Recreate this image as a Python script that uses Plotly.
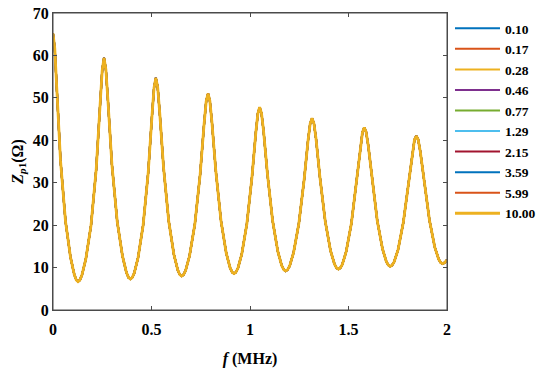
import plotly.graph_objects as go

# Frequency (MHz) and impedance (Ohm)
freq_mhz = [
    0.0, 0.0089, 0.0191, 0.0381, 0.0635, 0.0889, 0.1080, 0.1181,
    0.127, 0.1362, 0.1468, 0.1666, 0.193, 0.2194, 0.2392, 0.2498,
    0.259, 0.2684, 0.2791, 0.2992, 0.326, 0.3528, 0.3729, 0.3836,
    0.393, 0.4020, 0.4124, 0.4317, 0.4575, 0.4833, 0.5027, 0.5130,
    0.522, 0.5312, 0.5417, 0.5613, 0.5875, 0.6137, 0.6334, 0.6438,
    0.653, 0.6624, 0.6731, 0.6932, 0.72, 0.7468, 0.7669, 0.7776,
    0.787, 0.7962, 0.8068, 0.8266, 0.853, 0.8794, 0.8992, 0.9098,
    0.919, 0.9281, 0.9385, 0.958, 0.984, 1.01, 1.0295, 1.0399,
    1.049, 1.0582, 1.0688, 1.0886, 1.115, 1.1414, 1.1612, 1.1718,
    1.181, 1.1904, 1.2011, 1.2212, 1.248, 1.2748, 1.2949, 1.3056,
    1.315, 1.3244, 1.3351, 1.3552, 1.382, 1.4088, 1.4289, 1.4396,
    1.449, 1.4582, 1.4687, 1.4883, 1.5145, 1.5407, 1.5604, 1.5708,
    1.580, 1.5892, 1.5998, 1.6196, 1.646, 1.6724, 1.6922, 1.7028,
    1.712, 1.7212, 1.7318, 1.7516, 1.778, 1.8044, 1.8242, 1.8348,
    1.844, 1.8534, 1.8641, 1.8842, 1.911, 1.9378, 1.9579, 1.9686,
    1.978, 1.990, 2.0,
]
z_ohm = [
    65.2, 61.7, 52.3, 35.2, 20.9, 12.42, 8.35, 7.08,
    6.7, 7.05, 8.21, 12.0, 19.95, 33.2, 48.5, 56.5,
    59.4, 56.7, 49.2, 34.2, 20.82, 12.68, 8.82, 7.65,
    7.3, 7.62, 8.70, 12.32, 19.98, 32.4, 45.9, 52.4,
    54.7, 52.6, 46.5, 33.5, 20.92, 13.08, 9.41, 8.32,
    8.0, 8.30, 9.31, 12.78, 20.2, 31.9, 43.8, 49.2,
    51.0, 49.3, 44.2, 32.7, 20.94, 13.41, 9.91, 8.90,
    8.6, 8.88, 9.83, 13.14, 20.28, 31.3, 41.8, 46.3,
    47.8, 46.4, 42.2, 32.0, 20.97, 13.76, 10.43, 9.48,
    9.2, 9.46, 10.36, 13.53, 20.39, 30.7, 40.1, 43.96,
    45.2, 44.0, 40.4, 31.2, 20.88, 13.98, 10.81, 9.91,
    9.65, 9.89, 10.75, 13.78, 20.37, 30.1, 38.6, 41.9,
    43.0, 42.0, 38.9, 30.7, 21.05, 14.43, 11.39, 10.54,
    10.3, 10.53, 11.34, 14.23, 20.55, 29.7, 37.2, 40.1,
    41.0, 40.2, 37.45, 30.2, 21.14, 14.82, 11.93, 11.13,
    10.9, 11.2, 11.8,
]

series_names = ["0.10", "0.17", "0.28", "0.46", "0.77", "1.29", "2.15", "3.59", "5.99", "10.00"]
series_colors = ["#0072BD", "#D95319", "#EDB120", "#7E2F8E", "#77AC30",
                 "#4DBEEE", "#A2142F", "#0072BD", "#D95319", "#EDB120"]

x_ticks = [0, 0.5, 1, 1.5, 2]
x_tick_text = ["0", "0.5", "1", "1.5", "2"]
y_ticks = [0, 10, 20, 30, 40, 50, 60, 70]

FONT = "Liberation Serif"
AXIS_GRAY = "#4a4a4a"

fig = go.Figure()
n = len(series_names)
for i, (name, color) in enumerate(zip(series_names, series_colors)):
    fig.add_trace(go.Scatter(
        x=freq_mhz, y=z_ohm, mode="lines", name=f"<b>{name}</b>",
        line=dict(color=color, width=2.8 if i == n - 1 else 2.0),
    ))

axis_common = dict(
    showline=True, linecolor=AXIS_GRAY, linewidth=1,
    mirror="ticks", ticks="inside", ticklen=4, tickcolor=AXIS_GRAY,
    showgrid=False, zeroline=False, automargin=False,
    ticklabeloverflow="allow",
    tickfont=dict(family=FONT, size=16, color="black", weight="bold"),
)

fig.update_layout(
    width=550, height=369,
    margin=dict(l=45, r=111, t=5, b=67),
    paper_bgcolor="white", plot_bgcolor="white",
    font=dict(family=FONT, color="black"),
    xaxis=dict(
        range=[0, 2], tickvals=x_ticks, ticktext=[f"<b>{t}</b>" for t in x_tick_text],
        title=dict(text="<b><i>f</i> (MHz)</b>", font=dict(family=FONT, size=16), standoff=15),
        ticklabelstandoff=5,
        **axis_common,
    ),
    yaxis=dict(
        range=[0, 70], tickvals=y_ticks, ticktext=[f"<b>{t}</b>" for t in y_ticks],
        title=dict(text="<b><i>Z</i><sub><i>p</i>1</sub>(Ω)</b>", font=dict(family=FONT, size=16), standoff=5),
        ticklabelstandoff=0,
        **axis_common,
    ),
    legend=dict(
        x=1.0076, y=1.0, xanchor="left", yanchor="top", itemwidth=45,
        font=dict(family=FONT, size=13.5, color="black"),
        bgcolor="rgba(0,0,0,0)", borderwidth=0, tracegroupgap=0,
    ),
    shapes=[dict(type="rect", xref="paper", yref="paper", x0=0, x1=1, y0=0, y1=1,
                 line=dict(color=AXIS_GRAY, width=1), layer="above")],
    showlegend=True,
)

fig.write_html("out.html")
